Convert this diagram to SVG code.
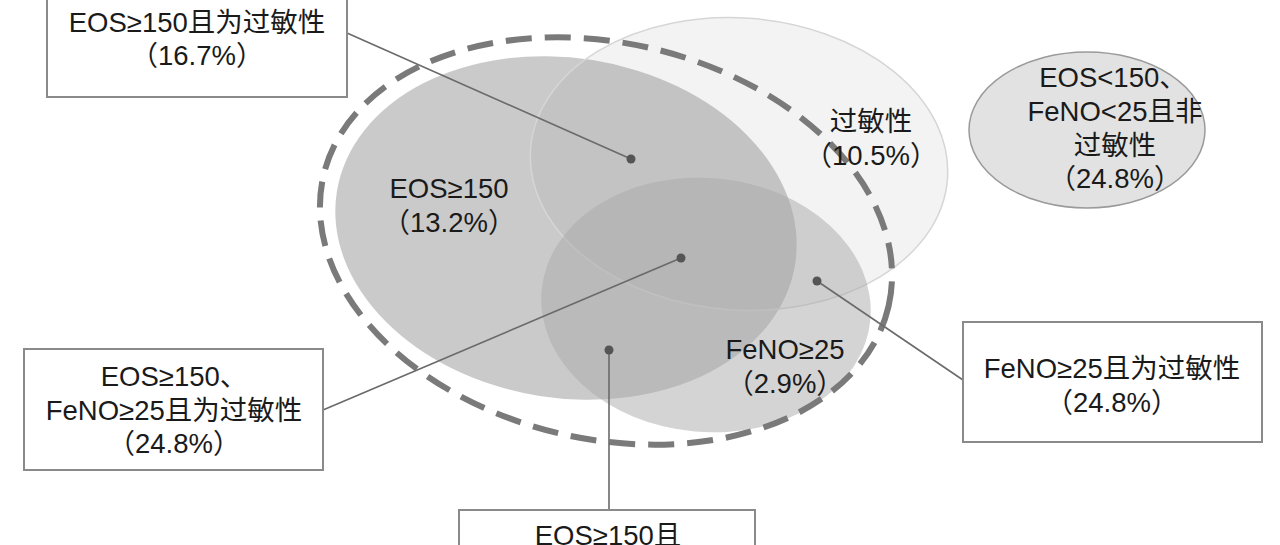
<svg xmlns="http://www.w3.org/2000/svg" width="1280" height="545" viewBox="0 0 1280 545">
<style>
text{font-family:"Liberation Sans","Noto Sans CJK SC",sans-serif;font-size:27.5px;fill:#1a1a1a;text-anchor:middle;dominant-baseline:central}
.box{fill:#fff;stroke:#8a8a8a;stroke-width:2}
.conn{stroke:#6a6a6a;stroke-width:1.6;fill:none}
.dot{fill:#555}
</style>
<rect width="1280" height="545" fill="#fff"/>
<g id="venn">
<ellipse id="eos" cx="566" cy="228" rx="232" ry="170" transform="rotate(9 566 228)" fill="#969696" fill-opacity="0.5"/>
<ellipse id="allergy" cx="739" cy="164" rx="209" ry="146" transform="rotate(4 739 164)" fill="#888" fill-opacity="0.1" stroke="#d6d6d6" stroke-width="1.5"/>
<ellipse id="feno" cx="706" cy="305" rx="165" ry="127" transform="rotate(5 706 305)" fill="#aaa" fill-opacity="0.5"/>
<ellipse id="dashed" cx="606" cy="241" rx="290" ry="198" transform="rotate(13 606 241)" fill="none" stroke="#7a7a7a" stroke-width="6" stroke-dasharray="26 13"/>
</g>
<g id="labels-inner">
<text x="449" y="188">EOS≥150</text>
<text x="449" y="222">（13.2%）</text>
<text x="871" y="121">过敏性</text>
<text x="871" y="155">（10.5%）</text>
<text x="785" y="349">FeNO≥25</text>
<text x="785" y="383">（2.9%）</text>
</g>
<g id="connectors">
<line class="conn" x1="347" y1="33" x2="631" y2="159"/>
<line class="conn" x1="323" y1="410" x2="681" y2="258"/>
<line class="conn" x1="817" y1="281" x2="963" y2="380"/>
<line class="conn" x1="609" y1="350" x2="609" y2="510"/>
<circle class="dot" cx="631" cy="159" r="4.5"/>
<circle class="dot" cx="681" cy="258" r="4.5"/>
<circle class="dot" cx="817" cy="281" r="4.5"/>
<circle class="dot" cx="609" cy="350" r="4.5"/>
</g>
<g id="box-eos-allergy">
<rect class="box" x="47" y="-5" width="300" height="102"/>
<text x="197" y="22">EOS≥150且为过敏性</text>
<text x="197" y="55">（16.7%）</text>
</g>
<g id="box-triple">
<rect class="box" x="24" y="349" width="299" height="121"/>
<text x="174" y="376">EOS≥150、</text>
<text x="174" y="410">FeNO≥25且为过敏性</text>
<text x="174" y="443">（24.8%）</text>
</g>
<g id="box-feno-allergy">
<rect class="box" x="963" y="322" width="299" height="120"/>
<text x="1112" y="368">FeNO≥25且为过敏性</text>
<text x="1112" y="402">（24.8%）</text>
</g>
<g id="box-eos-feno">
<rect class="box" x="459" y="510" width="296" height="60"/>
<text x="608" y="535">EOS≥150且</text>
</g>
<g id="none">
<ellipse cx="1087" cy="130" rx="118" ry="78" fill="#e2e2e2" stroke="#9a9a9a" stroke-width="1.5"/>
<text x="1113" y="77">EOS&lt;150、</text>
<text x="1115" y="111">FeNO&lt;25且非</text>
<text x="1115" y="145">过敏性</text>
<text x="1115" y="178">（24.8%）</text>
</g>
</svg>
